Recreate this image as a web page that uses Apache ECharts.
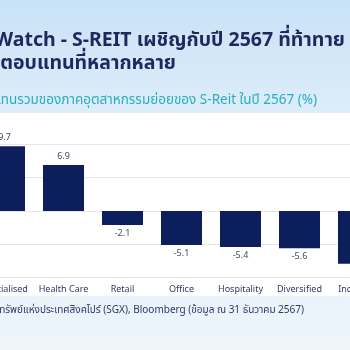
<!DOCTYPE html>
<html><head><meta charset="utf-8">
<script src="https://cdn.jsdelivr.net/npm/echarts@6/dist/echarts.min.js"></script>
<style>html,body{margin:0;padding:0;background:#fff;overflow:hidden}#c{position:absolute;left:-30px;top:0;width:420px;height:350px}</style>
</head><body><div id="c"></div>
<script>
var categories = ['Specialised','Health Care','Retail','Office','Hospitality','Diversified','Industrial'];
var values = [9.7, 6.9, -2.1, -5.1, -5.4, -5.6, -7.9];
var titleLine1 = 'REIT Watch - S-REIT เผชิญกับปี 2567 ที่ท้าทาย';
var titleLine2 = 'แต่ให้ผลตอบแทนที่หลากหลาย';
var subtitle = 'ผลตอบแทนรวมของภาคอุตสาหกรรมย่อยของ S-Reit ในปี 2567 (%)';
var footer = 'ที่มา: ตลาดหลักทรัพย์แห่งประเทศสิงคโปร์ (SGX), Bloomberg (ข้อมูล ณ 31 ธันวาคม 2567)';

var OX = 30; // container offset
var FONT = '"Noto Sans", "Noto Sans Thai", sans-serif';
var chart = echarts.init(document.getElementById('c'));
chart.setOption({
  animation: false,
  backgroundColor: 'transparent',
  graphic: [
    {type:'rect', z:-10, shape:{x:0,y:0,width:420,height:350},
     style:{fill:new echarts.graphic.LinearGradient(0,0,0,1,[
       {offset:0,color:'#c9e2f6'},{offset:0.3,color:'#dcecf9'},{offset:1,color:'#eef5fb'}])}},
    {type:'rect', z:-9, shape:{x:0,y:113,width:420,height:183}, style:{fill:'#ffffff'}},
    {type:'text', x:345+OX, y:40, style:{text:titleLine1, fill:'#1b2a5e', font:'bold 19.5px '+FONT, align:'right', verticalAlign:'middle'}},
    {type:'text', x:176+OX, y:63, style:{text:titleLine2, fill:'#1b2a5e', font:'bold 19.5px '+FONT, align:'right', verticalAlign:'middle'}},
    {type:'text', x:317+OX, y:100, style:{text:subtitle, fill:'#2aaebf', font:'13.5px '+FONT, align:'right', verticalAlign:'middle'}},
    {type:'text', x:304+OX, y:310, style:{text:footer, fill:'#2b3a63', font:'10px '+FONT, align:'right', verticalAlign:'middle'}}
  ],
  grid: {left:5, right:2, top:144.3, bottom:72.3, containLabel:false},
  xAxis: {
    type:'category', data:categories, position:'bottom',
    axisLine:{show:false}, axisTick:{show:false},
    axisLabel:{color:'#2b3a63', fontFamily:FONT, fontSize:9, margin:7, interval:0}
  },
  yAxis: {
    type:'value', min:-10, max:10, interval:5,
    axisLabel:{show:false}, axisLine:{show:false}, axisTick:{show:false},
    splitLine:{lineStyle:{color:'#e6e6e6', width:1}}
  },
  series: [{
    type:'bar', barWidth:41,
    itemStyle:{color:'#0c1e5b'},
    data: values.map(function(v){
      return {value:v, label:{show:true, position: v>=0?'top':'bottom', distance:4,
        color:'#3d4a68', fontFamily:FONT, fontSize:9, formatter:function(p){return p.value.toFixed(1);}}};
    })
  }]
});
</script></body></html>
